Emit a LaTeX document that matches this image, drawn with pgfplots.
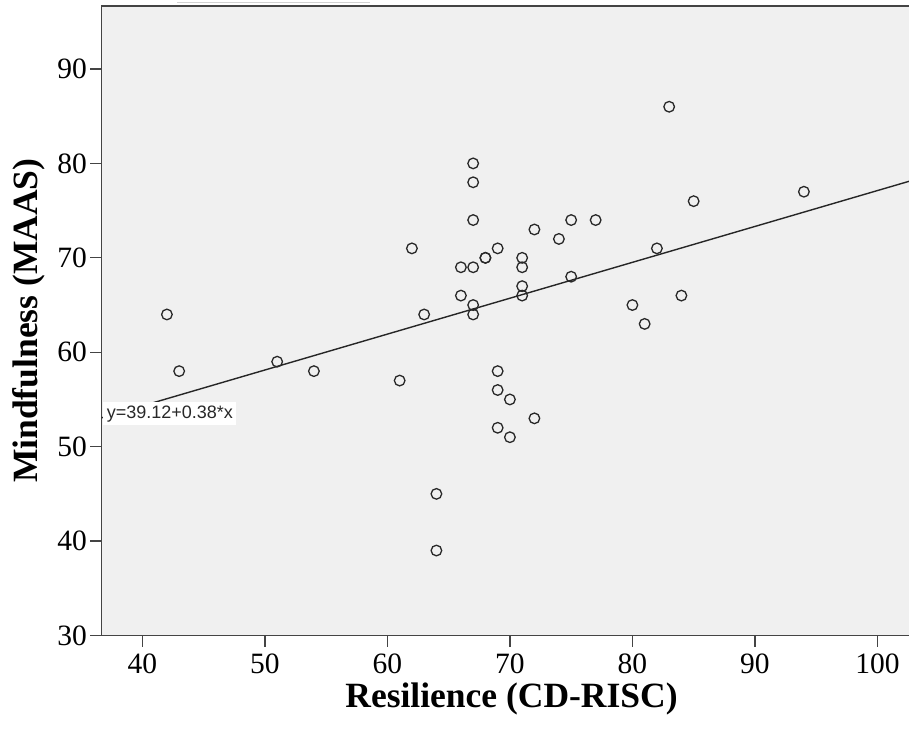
\documentclass[border=0pt]{standalone}
\usepackage{fontspec}
\setmainfont{Liberation Serif}
\newfontfamily\eqfont{Liberation Sans}
\usepackage{pgfplots}
\pgfplotsset{compat=1.18}

\definecolor{panel}{RGB}{240,240,240}
\definecolor{frame}{RGB}{68,68,68}
\definecolor{ink}{RGB}{40,40,40}

\pgfplotstableread{
x y
42 64
43 58
51 59
54 58
61 57
62 71
63 64
64 45
64 39
66 69
66 66
67 80
67 78
67 74
67 69
67 65
67 64
68 70
68 70
69 71
69 58
69 56
69 52
70 55
70 51
71 70
71 69
71 67
71 66
72 73
72 53
74 72
75 74
75 68
77 74
80 65
81 63
82 71
83 86
84 66
85 76
94 77
}\scores

\begin{document}
\begin{tikzpicture}
\useasboundingbox (0,0) rectangle (909pt,740pt);
% faint rule above the panel
\draw[line width=1.5pt, gray!35] (177pt,737.5pt) -- (370pt,737.5pt);
\begin{axis}[
  at={(101.5pt,104.5pt)}, anchor=south west,
  scale only axis,
  width=820pt, height=629.5pt,
  xmin=36.66, xmax=103.6,
  ymin=30, ymax=96.67,
  axis background/.style={fill=panel},
  axis line style={frame, line width=1.3pt},
  xtick={40,50,...,100},
  ytick={30,40,...,90},
  tick align=outside,
  major tick length=11pt,
  tick style={frame, line width=1.3pt},
  xtick pos=bottom, ytick pos=left,
  /pgf/number format/assume math mode=true,
  tick label style={font=\fontsize{29.5}{32}\selectfont, text=black},
  xticklabel style={yshift=-4pt},
  xlabel={Resilience (CD-RISC)},
  ylabel={Mindfulness (MAAS)},
  label style={font=\fontsize{35.5}{38}\selectfont\bfseries},
  xlabel style={at={(axis description cs:0.5,0)}, anchor=base, yshift=-72pt},
  ylabel style={at={(axis description cs:-0.078,0.5)}, anchor=base},
  clip=true,
]
\addplot[only marks, mark=o, mark size=5.3pt, draw=ink, line width=1.3pt]
  table[x=x, y=y] {\scores};
% fitted line y = 39.12 + 0.38 x
\addplot[black!85, line width=1.4pt] coordinates {(36.66,53.05) (103.6,78.49)};
\node[anchor=north west, fill=white, inner xsep=3.6pt, inner ysep=3pt,
      text height=13.5pt, text depth=4pt, font=\eqfont\fontsize{18}{20}\selectfont, text=ink]
  at (axis cs:36.78,54.76) {y=39.12+0.38*x};
\end{axis}
\end{tikzpicture}
\end{document}
